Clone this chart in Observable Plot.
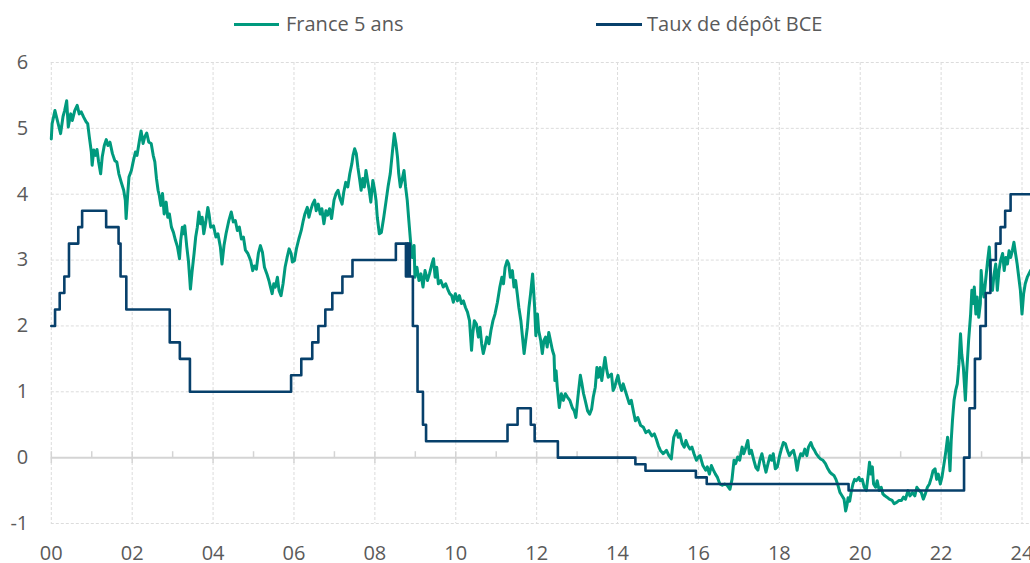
<!DOCTYPE html>
<html>
<head>
<meta charset="utf-8">
<script src="https://cdn.jsdelivr.net/npm/d3@7"></script>
<script src="https://cdn.jsdelivr.net/npm/@observablehq/plot@0.6"></script>
<style>
  html, body { margin: 0; padding: 0; background: #fff; overflow: hidden; }
  #wrap { position: relative; width: 1030px; height: 563px; font-family: "Open Sans", sans-serif; }
  #chart { position: absolute; left: 0; top: 0; }
  .sw { position: absolute; height: 3px; top: 22.5px; }
  .lt { position: absolute; top: 12px; font-size: 20px; line-height: 24px; color: #5a5a5a; white-space: nowrap; }
</style>
</head>
<body>
<div id="wrap">
  <div id="chart"></div>
  <div class="sw" id="sw1" style="left:234px;width:45px;"></div>
  <div class="lt" id="lt1" style="left:286px;"></div>
  <div class="sw" id="sw2" style="left:596px;width:46px;"></div>
  <div class="lt" id="lt2" style="left:647px;"></div>
</div>
<script>
// ---- Series names & colours ----
const seriesNames = ["France 5 ans", "Taux de dépôt BCE"];
const seriesColors = ["#009A7E", "#07406B"];

// ---- Axis ticks ----
const xTicks = [2000, 2002, 2004, 2006, 2008, 2010, 2012, 2014, 2016, 2018, 2020, 2022, 2024];
const xMinorTicks = [2001, 2003, 2005, 2007, 2009, 2011, 2013, 2015, 2017, 2019, 2021, 2023];
const yTicks = [-1, 0, 1, 2, 3, 4, 5, 6];

// ---- ECB deposit rate (step changes) ----
const ecbDates = ["2000-01-01","2000-02-04","2000-03-17","2000-04-28","2000-06-09","2000-09-01","2000-10-06",
  "2001-05-11","2001-08-31","2001-09-18","2001-11-09","2002-12-06","2003-03-07","2003-06-06",
  "2005-12-06","2006-03-08","2006-06-15","2006-08-09","2006-10-11","2006-12-13","2007-03-14","2007-06-13",
  "2008-07-09","2008-10-08","2008-10-09","2008-10-22","2008-10-23","2008-11-05","2008-11-06","2008-11-12",
  "2008-12-10","2009-01-21","2009-03-11","2009-04-08","2011-04-13","2011-07-13","2011-11-09","2011-12-14",
  "2012-07-11","2014-06-11","2014-09-10","2015-12-09","2016-03-16","2019-09-18",
  "2022-07-27","2022-09-14","2022-11-02","2022-12-21","2023-02-08","2023-03-22","2023-05-10","2023-06-21",
  "2023-08-02","2023-09-20","2024-03-31"];
const ecbRates = [2.00,2.25,2.50,2.75,3.25,3.50,3.75,
  3.50,3.25,2.75,2.25,1.75,1.50,1.00,
  1.25,1.50,1.75,2.00,2.25,2.50,2.75,3.00,
  3.25,2.75,3.25,2.75,3.25,2.75,3.25,2.75,
  2.00,1.00,0.50,0.25,0.50,0.75,0.50,0.25,
  0.00,-0.10,-0.20,-0.30,-0.40,-0.50,
  0.00,0.75,1.50,2.00,2.50,3.00,3.25,3.50,
  3.75,4.00,4.00];

// ---- France 5-year yield [year, %] ----
const france5y = [
[2000.00,4.84],[2000.02,5.07],[2000.09,5.27],[2000.17,5.07],[2000.23,4.92],[2000.29,5.18],[2000.33,5.27],[2000.38,5.42],[2000.42,5.02],[2000.48,5.22],[2000.52,5.12],[2000.58,5.27],[2000.64,5.35],[2000.69,5.22],[2000.74,5.25],[2000.80,5.17],[2000.86,5.10],[2000.90,5.07],[2000.94,4.87],
[2000.99,4.64],[2001.01,4.44],[2001.05,4.67],[2001.09,4.59],[2001.13,4.68],[2001.17,4.49],[2001.22,4.31],[2001.26,4.57],[2001.31,4.74],[2001.36,4.83],[2001.40,4.74],[2001.45,4.79],[2001.51,4.62],[2001.57,4.51],[2001.62,4.49],[2001.67,4.31],[2001.73,4.18],[2001.79,4.06],[2001.83,3.91],[2001.85,3.63],[2001.89,4.01],[2001.92,4.26],[2001.98,4.36],
[2002.03,4.51],[2002.08,4.64],[2002.12,4.59],[2002.18,4.82],[2002.22,4.96],[2002.27,4.77],[2002.31,4.87],[2002.36,4.93],[2002.41,4.79],[2002.47,4.77],[2002.52,4.59],[2002.56,4.49],[2002.60,4.24],[2002.64,4.06],[2002.67,3.98],[2002.71,3.83],[2002.75,4.01],[2002.79,3.70],[2002.84,3.88],[2002.88,3.65],[2002.92,3.70],[2002.97,3.50],
[2003.02,3.42],[2003.07,3.30],[2003.12,3.20],[2003.17,3.02],[2003.20,3.30],[2003.24,3.50],[2003.27,3.40],[2003.30,3.52],[2003.35,3.20],[2003.39,2.99],[2003.42,2.74],[2003.44,2.56],[2003.48,2.82],[2003.53,3.10],[2003.57,3.35],[2003.61,3.50],[2003.65,3.73],[2003.69,3.55],[2003.73,3.65],[2003.77,3.40],[2003.82,3.58],[2003.87,3.80],[2003.90,3.70],[2003.94,3.50],
[2004.01,3.52],[2004.07,3.35],[2004.12,3.40],[2004.18,3.20],[2004.22,2.94],[2004.27,3.22],[2004.32,3.40],[2004.39,3.60],[2004.45,3.73],[2004.50,3.58],[2004.55,3.60],[2004.60,3.45],[2004.65,3.50],[2004.70,3.32],[2004.75,3.35],[2004.80,3.15],[2004.86,3.10],[2004.93,2.99],
[2004.98,2.84],[2005.02,2.91],[2005.07,2.86],[2005.12,3.10],[2005.17,3.22],[2005.22,3.12],[2005.27,2.89],[2005.33,2.79],[2005.38,2.69],[2005.42,2.59],[2005.46,2.49],[2005.50,2.64],[2005.54,2.59],[2005.59,2.74],[2005.63,2.54],[2005.68,2.46],[2005.73,2.64],[2005.78,2.89],[2005.83,3.04],[2005.88,3.17],[2005.93,3.10],
[2005.96,2.97],[2006.01,2.99],[2006.06,3.17],[2006.12,3.32],[2006.18,3.45],[2006.23,3.60],[2006.27,3.70],[2006.33,3.80],[2006.37,3.65],[2006.41,3.75],[2006.46,3.85],[2006.51,3.91],[2006.55,3.75],[2006.60,3.85],[2006.65,3.70],[2006.69,3.78],[2006.74,3.55],[2006.79,3.75],[2006.83,3.68],[2006.88,3.78],[2006.93,3.63],
[2006.99,3.91],[2007.04,4.01],[2007.09,4.06],[2007.14,3.93],[2007.19,3.85],[2007.23,4.03],[2007.28,4.18],[2007.33,4.11],[2007.38,4.31],[2007.43,4.46],[2007.46,4.59],[2007.50,4.69],[2007.54,4.62],[2007.58,4.41],[2007.62,4.24],[2007.66,4.06],[2007.70,4.24],[2007.74,4.11],[2007.78,4.36],[2007.82,4.21],[2007.86,4.06],[2007.90,3.88],
[2007.95,4.21],[2007.99,4.08],[2008.03,3.90],[2008.06,3.65],[2008.11,3.40],[2008.16,3.42],[2008.22,3.65],[2008.28,3.91],[2008.33,4.13],[2008.38,4.31],[2008.43,4.62],[2008.48,4.92],[2008.52,4.77],[2008.56,4.56],[2008.59,4.31],[2008.63,4.11],[2008.67,4.21],[2008.72,4.36],[2008.76,4.11],[2008.80,3.91],[2008.84,3.60],[2008.88,3.30],[2008.92,3.04],
[2008.97,3.22],[2008.99,2.74],[2009.04,2.89],[2009.09,2.69],[2009.14,2.79],[2009.19,2.59],[2009.24,2.84],[2009.30,2.69],[2009.35,2.79],[2009.41,2.94],[2009.45,3.02],[2009.49,2.74],[2009.53,2.89],[2009.57,2.64],[2009.63,2.69],[2009.69,2.59],[2009.75,2.64],[2009.80,2.56],[2009.85,2.49],[2009.90,2.46],
[2009.94,2.36],[2009.99,2.49],[2010.04,2.38],[2010.09,2.46],[2010.14,2.34],[2010.19,2.38],[2010.24,2.28],[2010.29,2.21],[2010.34,2.08],[2010.39,1.63],[2010.42,1.88],[2010.46,2.08],[2010.51,2.03],[2010.56,1.83],[2010.60,1.98],[2010.64,1.73],[2010.68,1.58],[2010.72,1.68],[2010.77,1.83],[2010.82,1.73],[2010.87,1.93],[2010.92,2.08],
[2010.97,2.18],[2011.03,2.36],[2011.09,2.59],[2011.14,2.74],[2011.18,2.64],[2011.22,2.89],[2011.27,2.99],[2011.31,2.94],[2011.35,2.74],[2011.40,2.84],[2011.44,2.59],[2011.48,2.69],[2011.52,2.49],[2011.56,2.28],[2011.61,2.08],[2011.65,1.83],[2011.69,1.58],[2011.73,1.78],[2011.77,1.98],[2011.81,2.28],[2011.85,2.49],[2011.90,2.79],[2011.93,2.49],
[2011.95,2.28],[2011.98,1.85],[2012.02,2.18],[2012.05,1.93],[2012.10,1.78],[2012.14,1.58],[2012.18,1.78],[2012.22,1.83],[2012.26,1.68],[2012.30,1.90],[2012.34,1.78],[2012.39,1.63],[2012.43,1.55],[2012.45,1.17],[2012.48,1.32],[2012.51,1.07],[2012.56,0.76],[2012.61,0.97],[2012.66,0.87],[2012.71,0.97],[2012.76,0.92],[2012.82,0.87],[2012.88,0.76],[2012.93,0.71],
[2012.97,0.61],[2013.02,0.92],[2013.08,1.25],[2013.12,1.12],[2013.16,0.97],[2013.20,0.87],[2013.26,0.71],[2013.31,0.66],[2013.36,0.74],[2013.40,0.92],[2013.45,1.07],[2013.49,1.37],[2013.53,1.22],[2013.57,1.37],[2013.61,1.17],[2013.65,1.35],[2013.69,1.52],[2013.73,1.34],[2013.77,1.22],[2013.85,1.27],[2013.89,1.02],[2013.93,1.07],
[2013.97,1.17],[2014.01,1.25],[2014.05,1.12],[2014.10,1.02],[2014.14,1.12],[2014.19,1.02],[2014.24,0.92],[2014.29,0.82],[2014.34,0.87],[2014.39,0.71],[2014.44,0.56],[2014.50,0.61],[2014.57,0.49],[2014.64,0.46],[2014.70,0.38],[2014.77,0.41],[2014.85,0.33],[2014.91,0.36],
[2014.96,0.28],[2015.01,0.18],[2015.06,0.11],[2015.13,0.06],[2015.21,0.11],[2015.27,0.03],[2015.33,-0.02],[2015.36,0.16],[2015.39,0.31],[2015.46,0.41],[2015.50,0.31],[2015.54,0.36],[2015.60,0.21],[2015.65,0.16],[2015.69,0.26],[2015.74,0.18],[2015.79,0.13],[2015.84,0.16],[2015.89,0.06],
[2015.95,-0.04],[2016.00,0.01],[2016.04,0.03],[2016.11,-0.12],[2016.18,-0.19],[2016.22,-0.14],[2016.27,-0.25],[2016.32,-0.12],[2016.37,-0.19],[2016.42,-0.25],[2016.47,-0.30],[2016.53,-0.40],[2016.59,-0.42],[2016.65,-0.40],[2016.71,-0.42],[2016.78,-0.48],[2016.83,-0.33],[2016.88,-0.04],
[2016.92,-0.09],[2016.97,0.01],[2017.02,-0.04],[2017.08,0.16],[2017.12,0.06],[2017.16,0.13],[2017.22,0.26],[2017.26,0.06],[2017.31,0.11],[2017.37,-0.04],[2017.42,-0.15],[2017.47,-0.19],[2017.52,-0.04],[2017.57,0.06],[2017.62,-0.09],[2017.67,-0.22],[2017.72,-0.09],[2017.77,0.03],[2017.81,-0.04],[2017.85,0.06],
[2017.90,-0.17],[2017.95,-0.14],[2018.00,0.01],[2018.05,0.13],[2018.10,0.23],[2018.15,0.21],[2018.20,0.11],[2018.25,0.03],[2018.30,0.08],[2018.35,0.11],[2018.39,0.01],[2018.44,-0.19],[2018.48,-0.04],[2018.53,0.06],[2018.58,0.03],[2018.63,0.13],[2018.68,0.03],[2018.72,0.16],[2018.78,0.23],[2018.82,0.16],[2018.87,0.11],
[2018.91,0.06],[2018.97,0.01],[2019.02,-0.02],[2019.08,-0.04],[2019.14,-0.09],[2019.20,-0.17],[2019.25,-0.22],[2019.30,-0.25],[2019.35,-0.27],[2019.40,-0.33],[2019.45,-0.42],[2019.50,-0.53],[2019.55,-0.58],[2019.60,-0.63],[2019.64,-0.81],[2019.67,-0.73],[2019.70,-0.61],[2019.74,-0.66],[2019.78,-0.51],[2019.82,-0.40],[2019.86,-0.33],
[2019.90,-0.35],[2019.97,-0.30],[2020.00,-0.35],[2020.05,-0.33],[2020.10,-0.45],[2020.15,-0.50],[2020.19,-0.30],[2020.23,-0.07],[2020.26,-0.25],[2020.30,-0.14],[2020.33,-0.40],[2020.38,-0.45],[2020.42,-0.35],[2020.47,-0.50],[2020.52,-0.45],[2020.56,-0.55],[2020.61,-0.58],[2020.66,-0.60],[2020.72,-0.63],[2020.79,-0.65],[2020.84,-0.70],
[2020.90,-0.68],[2020.96,-0.65],[2021.02,-0.65],[2021.07,-0.60],[2021.12,-0.63],[2021.18,-0.50],[2021.23,-0.58],[2021.29,-0.53],[2021.35,-0.58],[2021.40,-0.45],[2021.46,-0.50],[2021.51,-0.53],[2021.56,-0.63],[2021.61,-0.55],[2021.66,-0.45],[2021.71,-0.40],[2021.76,-0.30],[2021.80,-0.20],[2021.85,-0.17],[2021.89,-0.33],[2021.93,-0.25],[2021.98,-0.40],
[2022.02,-0.30],[2022.06,-0.14],[2022.09,-0.02],[2022.12,0.11],[2022.16,0.31],[2022.19,0.11],[2022.22,-0.20],[2022.25,0.26],[2022.28,0.56],[2022.32,0.87],[2022.36,1.02],[2022.40,1.12],[2022.44,1.42],[2022.48,1.88],[2022.51,1.57],[2022.55,1.37],[2022.60,0.87],[2022.63,1.27],[2022.68,1.78],[2022.73,2.18],[2022.76,2.54],[2022.79,2.34],[2022.82,2.59],[2022.86,2.18],[2022.89,2.44],[2022.93,2.13],[2022.97,2.34],
[2022.99,2.84],[2023.02,2.59],[2023.06,2.44],[2023.10,2.69],[2023.15,2.99],[2023.19,3.20],[2023.23,2.69],[2023.27,2.54],[2023.31,2.79],[2023.35,2.94],[2023.39,2.54],[2023.43,2.84],[2023.47,2.99],[2023.52,3.10],[2023.56,2.84],[2023.60,3.04],[2023.64,2.94],[2023.68,3.14],[2023.72,3.04],[2023.76,3.14],[2023.80,3.27],[2023.84,3.10],
[2023.88,2.94],[2023.92,2.74],[2023.96,2.54],[2024.00,2.18],[2024.04,2.49],[2024.08,2.64],[2024.13,2.74],[2024.17,2.79],[2024.21,2.84]
];

// ---- helpers ----
function toYear(s) {
  const d = new Date(s + "T00:00:00Z");
  const y = d.getUTCFullYear();
  const a = Date.UTC(y, 0, 1), b = Date.UTC(y + 1, 0, 1);
  return y + (d.getTime() - a) / (b - a);
}
const ecb = ecbDates.map((s, i) => ({x: toYear(s), y: ecbRates[i]}));
const fr = france5y.map(([x, y]) => ({x, y}));

const gridColor = "#dcdcdc";
const textColor = "#5a5a5a";

const chart = Plot.plot({
  width: 1030,
  height: 563,
  marginTop: 62,
  marginBottom: 40,
  marginLeft: 50.8,
  marginRight: 0,
  style: {fontFamily: "'Open Sans', sans-serif", fontSize: "20px", color: textColor, background: "transparent", overflow: "visible"},
  x: {type: "linear", domain: [2000, 2024.21], label: null},
  y: {domain: [-1, 6], label: null},
  marks: [
    Plot.ruleX(xTicks, {stroke: gridColor, strokeDasharray: "3,2", strokeWidth: 1}),
    Plot.ruleY(yTicks.filter(d => d !== 0), {stroke: gridColor, strokeDasharray: "3,2", strokeWidth: 1}),
    Plot.ruleY([0], {stroke: "#d4d4d4", strokeWidth: 2}),
    Plot.ruleX(xMinorTicks, {y1: 0, y2: 0.09, stroke: "#d4d4d4", strokeWidth: 1.5}),
    Plot.ruleX(xTicks, {y1: -0.09, y2: 0.09, stroke: "#d4d4d4", strokeWidth: 1.5}),
    Plot.axisX({ticks: xTicks, tickSize: 0, tickPadding: 22, label: null, tickFormat: d => String(d).slice(2), fill: textColor, fontSize: 20}),
    Plot.axisY({ticks: yTicks, tickSize: 0, tickPadding: 23, label: null, tickFormat: d => String(d), fill: textColor, fontSize: 20}),
    Plot.line(fr, {x: "x", y: "y", stroke: seriesColors[0], strokeWidth: 3, strokeLinejoin: "round"}),
    Plot.line(ecb, {x: "x", y: "y", curve: "step-after", stroke: seriesColors[1], strokeWidth: 2.6})
  ]
});
document.getElementById("chart").appendChild(chart);

document.getElementById("sw1").style.background = seriesColors[0];
document.getElementById("sw2").style.background = seriesColors[1];
document.getElementById("lt1").textContent = seriesNames[0];
document.getElementById("lt2").textContent = seriesNames[1];
</script>
</body>
</html>
